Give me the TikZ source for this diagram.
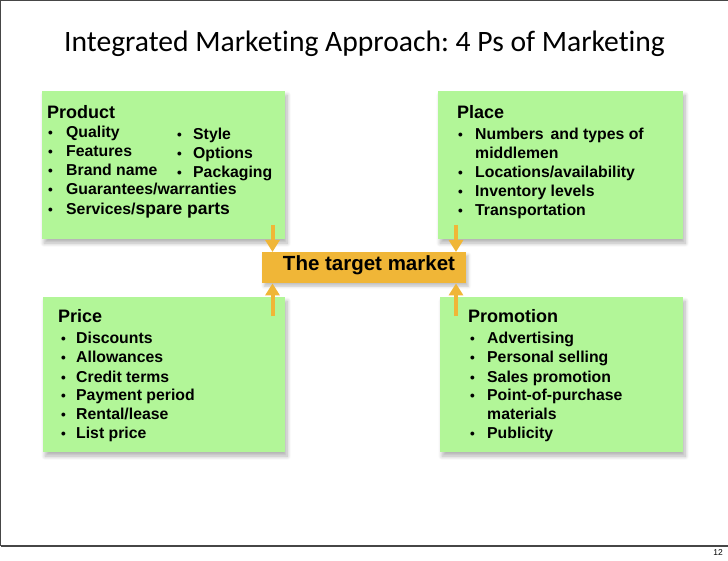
\documentclass[tikz,border=0pt]{standalone}
\usepackage{fontspec}
\setmainfont{Liberation Sans}
\newfontfamily\titlefont[Ligatures=NoCommon]{Carlito}
\usetikzlibrary{arrows.meta,shadows.blur,calc}
\frenchspacing
\definecolor{boxgreen}{RGB}{178,246,152}
\definecolor{barorange}{RGB}{240,182,55}
\definecolor{framegray}{RGB}{70,70,70}
\tikzset{
  x=1pt, y=-1pt,
  pbox/.style={fill=boxgreen, draw=none, anchor=north west, inner sep=0pt,
    blur shadow={shadow xshift=2pt, shadow yshift=-4pt, shadow opacity=30, shadow blur radius=4pt, shadow blur steps=8}},
  phead/.style={anchor=base west, inner sep=0pt, font=\bfseries\fontsize{18}{18}\selectfont},
  pitem/.style={anchor=base west, inner sep=0pt, font=\bfseries\fontsize{15.8}{15.8}\selectfont},
  pbul/.style={anchor=base west, inner sep=0pt, font=\bfseries\fontsize{13.5}{13.5}\selectfont},
  parr/.style={draw=barorange, line width=4pt, -{Triangle[width=14pt,length=12pt]}},
}
\newcommand{\mitem}[5]{%
  \node[pbul] (#1-b) at (#2,#4) {•};
  \node[pitem] (#1) at (#3,#4) {#5};}
\begin{document}
\begin{tikzpicture}
\useasboundingbox (0,0) rectangle (728,561);
% slide frame
\draw[framegray, line width=1.3pt] (0.7,546) -- (0.7,0.7) -- (728,0.7);
\draw[framegray, line width=1.3pt] (0.7,546) -- (728,546);
\node[anchor=base east, inner sep=0pt, font=\fontsize{8.5}{8.5}\selectfont] (pg) at (723,555) {12};
% title
\node[anchor=base west, inner sep=0pt, font=\titlefont\fontsize{29.6}{29.6}\selectfont] (title) at (64,52)
  {Integrated Marketing Approach: 4 Ps of Marketing};
% boxes
\node[pbox, minimum width=243pt, minimum height=148pt] (prod) at (42,91) {};
\node[pbox, minimum width=245pt, minimum height=148pt] (place) at (438,91) {};
\node[pbox, minimum width=242pt, minimum height=155pt] (price) at (43,297) {};
\node[pbox, minimum width=243pt, minimum height=155pt] (promo) at (440,297) {};
% target market bar
\node[fill=barorange, anchor=north west, inner sep=0pt, minimum width=204pt, minimum height=31pt,
  blur shadow={shadow xshift=2pt, shadow yshift=-3pt, shadow opacity=25, shadow blur radius=3pt}] (bar) at (262,252) {};
\node[anchor=base, inner sep=0pt, font=\bfseries\fontsize{20.5}{20.5}\selectfont] (tm) at (369,271) {The target market};
% Product
\node[phead] (prod-h) at (47,119) {Product};
\mitem{q}{48}{66}{138}{Quality}
\mitem{f}{48}{66}{157}{Features}
\mitem{bn}{48}{66}{176}{Brand name}
\mitem{g}{48}{66}{195}{Guarantees/warranties}
\mitem{s}{48}{66}{215}{Services/{\fontsize{17.5}{17.5}\selectfont spare parts}}
\mitem{st}{177}{193}{140}{Style}
\mitem{op}{177}{193}{159}{Options}
\mitem{pk}{177}{193}{178}{Packaging}
% Place
\node[phead] (place-h) at (457,119) {Place};
\mitem{nt}{458}{475}{140}{Numbers\, and types of}
\node[pitem] (mid) at (475,159) {middlemen};
\mitem{loc}{458}{475}{178}{Locations/availability}
\mitem{inv}{458}{475}{197}{Inventory levels}
\mitem{tr}{458}{475}{216}{Transportation}
% Price
\node[phead] (price-h) at (58,323) {Price};
\mitem{d}{61}{76}{343}{Discounts}
\mitem{al}{61}{76}{362}{Allowances}
\mitem{ct}{61}{76}{382}{Credit terms}
\mitem{pp}{61}{76}{400}{Payment period}
\mitem{rl}{61}{76}{419}{Rental/lease}
\mitem{lp}{61}{76}{438}{List price}
% Promotion
\node[phead] (promo-h) at (468,323) {Promotion};
\mitem{ad}{470}{487}{343}{Advertising}
\mitem{ps}{470}{487}{362}{Personal selling}
\mitem{sp}{470}{487}{382}{Sales promotion}
\mitem{pop}{470}{487}{400}{Point-of-purchase}
\node[pitem] (mat) at (487,419) {materials};
\mitem{pub}{470}{487}{438}{Publicity}
% arrows
\coordinate (tl) at (272.5,225);
\coordinate (tr) at (456,225);
\coordinate (bl) at (272.5,316);
\coordinate (br) at (456,316);
\draw[parr] (tl) -- (tl |- bar.north);
\draw[parr] (tr) -- (tr |- bar.north);
\draw[parr] (bl) -- (bl |- bar.south);
\draw[parr] (br) -- (br |- bar.south);
\end{tikzpicture}
\end{document}
